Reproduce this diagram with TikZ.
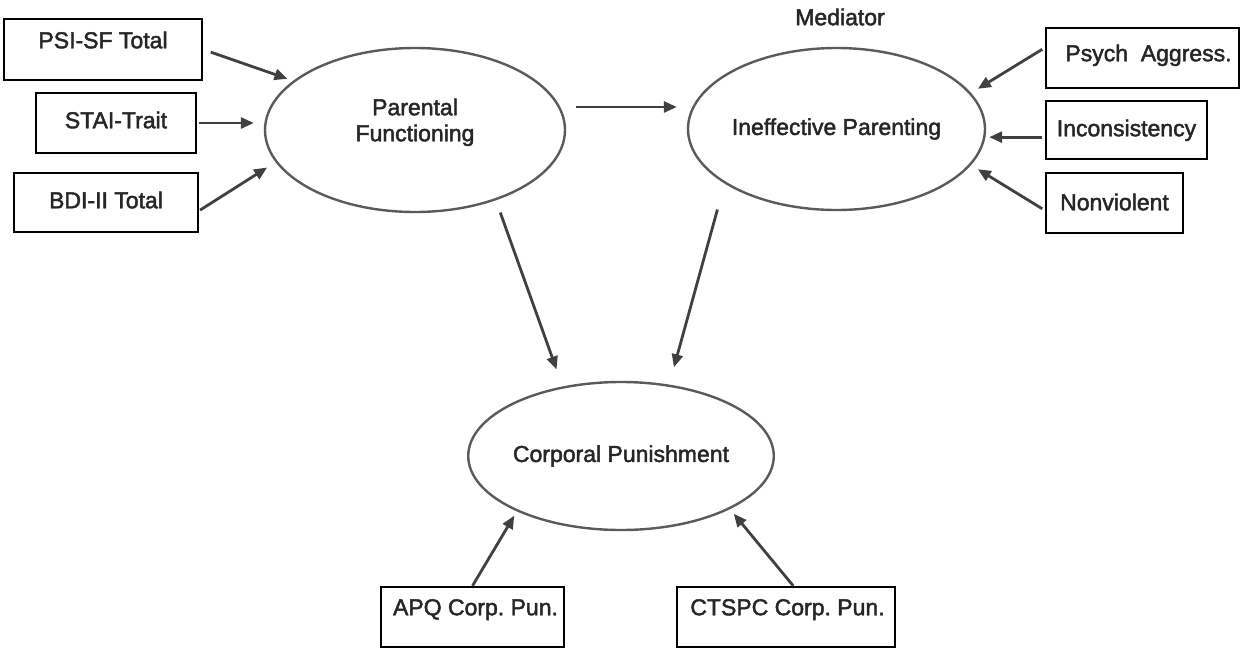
\documentclass[tikz,border=0pt]{standalone}
\usepackage{fontspec}
\setmainfont[FakeBold=2]{Liberation Sans}
\usetikzlibrary{arrows.meta,shapes.geometric}
\definecolor{edgegray}{HTML}{404040}
\definecolor{ellgray}{HTML}{5A5A5A}
\frenchspacing
\begin{document}
\begin{tikzpicture}[x=1pt,y=-1pt,
  every node/.style={font=\fontsize{23}{26}\selectfont, inner sep=0pt, text=black!85},
  obs/.style={draw=black, line width=2.4pt, rectangle, text height=16.5pt},
  lat/.style={draw=ellgray, line width=2.4pt, ellipse},
  arr/.style={draw=edgegray, line width=2.8pt, -{Triangle[length=13pt,width=11pt]}},
]
\useasboundingbox (0,0) rectangle (1245,648);

% observed indicators
\node[obs, minimum width=198, minimum height=61, text depth=19pt] (psi) at (103,49.5) {PSI-SF Total};
\node[obs, minimum width=160, minimum height=60, text depth=6pt] (stai) at (116,123) {STAI-Trait};
\node[obs, minimum width=184, minimum height=59, text depth=5pt] (bdi) at (106,202.5) {BDI-II Total};

\node[obs, minimum width=193, minimum height=60, text depth=10pt] (psych) at (1142.5,58) {\hspace*{12pt}Psych\ \ Aggress.};
\node[obs, minimum width=161, minimum height=58, text depth=4pt] (incons) at (1126.5,130) {Inconsistency};
\node[obs, minimum width=137, minimum height=60, text depth=2pt] (nonv) at (1114.5,203) {Nonviolent};

\node[obs, minimum width=183, minimum height=60, text depth=20pt] (apq) at (472.5,617) {\hspace*{6pt}APQ Corp. Pun.};
\node[obs, minimum width=218, minimum height=60, text depth=20pt] (ctspc) at (786,617) {\hspace*{3pt}CTSPC Corp. Pun.};

% latent variables
\node[lat, minimum width=300, minimum height=164, align=center, text height=42.5pt, text depth=20pt] (pf) at (415,130) {Parental\\Functioning};
\node[lat, minimum width=297, minimum height=162] (ip) at (836.5,129) {Ineffective Parenting};
\node[lat, minimum width=302, minimum height=148] (cp) at (621,456) {Corporal Punishment};

\node (med) at (840,17) {Mediator};

% connectors
\draw[arr, shorten <=8pt, shorten >=6pt] (psi.east) -- (pf.158);
\draw[arr, shorten <=2pt, shorten >=10pt] (stai.east) -- (stai.east -| pf.west);
\draw[arr, shorten <=1pt, shorten >=10pt] (bdi.-5) -- (pf.193);

\draw[arr, shorten <=16pt, shorten >=10pt] (pf.9) -- (pf.9 -| ip.west);
\draw[arr, shorten <=13pt, shorten >=18pt] (pf.-41) -- (cp.130);
\draw[arr, shorten <=27pt, shorten >=18pt] (ip.206) -- (cp.56);

\draw[arr, shorten <=3pt, shorten >=8pt] (psych.174) -- (ip.15);
\draw[arr, shorten <=3pt, shorten >=3pt] (incons.185) -- (incons.185 -| ip.east);
\draw[arr, shorten <=3pt, shorten >=8pt] (nonv.186) -- (ip.-15);

\draw[arr, shorten >=5pt] (apq.north) -- (cp.208);
\draw[arr, shorten >=6pt] (ctspc.77) -- (cp.-26);
\end{tikzpicture}
\end{document}
